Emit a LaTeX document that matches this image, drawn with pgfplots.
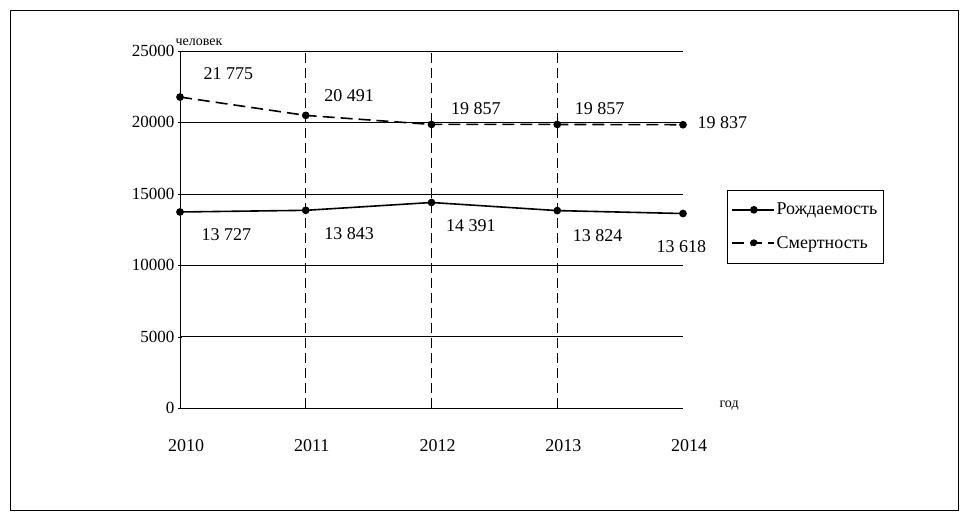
\documentclass[border=0pt]{standalone}
\usepackage{pgfplots}
\pgfplotsset{compat=1.18}
\usepackage{fontspec}
\setmainfont{Liberation Serif}
\begin{document}
\begin{tikzpicture}[x=1pt,y=1pt,every node/.style={font=\fontsize{18}{20}\selectfont}]
\useasboundingbox (-180,-112) rectangle (788,408);
\draw[line width=0.8pt] (-170,-102) rectangle (778,398);
\begin{axis}[at={(0,0)},anchor=origin,scale only axis,width=503pt,height=357pt,
  xmin=2010,xmax=2014,ymin=0,ymax=25000,
  axis x line=none, axis y line=left, axis line style={-},
  xtick={2010,2011,2012,2013,2014},
  ytick={0,5000,10000,15000,20000,25000}, scaled y ticks=false,
  ymajorgrids, grid style={black,line width=0.6pt},
  yticklabel style={/pgf/number format/set thousands separator={}, /pgf/number format/assume math mode=true, font=\fontsize{17}{19}\selectfont},
  tick style={black}, major tick length=4pt,
  clip=false,
  legend style={at={(1.087,0.611)},anchor=north west,draw=black,line width=0.6pt,font=\fontsize{21}{23}\selectfont,row sep=16pt,inner xsep=4pt,inner ysep=11pt},
  legend image code/.code={\draw[#1] (0pt,0pt)--(42pt,0pt); \fill (22pt,0pt) circle (3pt);},
  legend cell align=left,
]
\addplot[black,line width=1.6pt,mark=*,mark size=3pt] coordinates {(2010,13727)(2011,13843)(2012,14391)(2013,13824)(2014,13618)};
\addlegendentry{Рождаемость}
\addplot[black,line width=1.6pt,dash pattern=on 12pt off 6pt,mark=*,mark size=3pt,mark options={solid}] coordinates {(2010,21775)(2011,20491)(2012,19857)(2013,19857)(2014,19837)};
\addlegendentry{Смертность}
\foreach \x in {2011,2012,2013} {\edef\tmp{\noexpand\draw[black,line width=0.7pt,dash pattern=on 10pt off 5pt] (axis cs:\x,0)--(axis cs:\x,25000);}\tmp}
\foreach \x in {2010,2011,2012,2013,2014} {\edef\tmp{\noexpand\node[anchor=north] at (axis cs:\x,0) [xshift=6pt,yshift=-28pt] {\x};}\tmp}
\node[anchor=south west,font=\fontsize{14}{16}\selectfont] at (axis cs:2010,25000) [xshift=-8pt,yshift=2pt] {человек};
\node[anchor=west,font=\fontsize{14}{16}\selectfont] at (axis cs:2014,0) [xshift=33pt,yshift=2pt] {год};
\node[anchor=west] at (axis cs:2010,13727) [xshift=18pt,yshift=-23pt] {13 727};
\node[anchor=west] at (axis cs:2011,13843) [xshift=15pt,yshift=-23pt] {13 843};
\node[anchor=west] at (axis cs:2012,14391) [xshift=11pt,yshift=-23pt] {14 391};
\node[anchor=west] at (axis cs:2013,13824) [xshift=12pt,yshift=-25pt] {13 824};
\node[anchor=west] at (axis cs:2014,13618) [xshift=-30pt,yshift=-33pt] {13 618};
\node[anchor=west] at (axis cs:2010,21775) [xshift=20pt,yshift=23pt] {21 775};
\node[anchor=west] at (axis cs:2011,20491) [xshift=15pt,yshift=20pt] {20 491};
\node[anchor=west] at (axis cs:2012,19857) [xshift=16pt,yshift=16pt] {19 857};
\node[anchor=west] at (axis cs:2013,19857) [xshift=14pt,yshift=16pt] {19 857};
\node[anchor=west] at (axis cs:2014,19837) [xshift=11pt,yshift=2pt] {19 837};
\end{axis}
\end{tikzpicture}
\end{document}
